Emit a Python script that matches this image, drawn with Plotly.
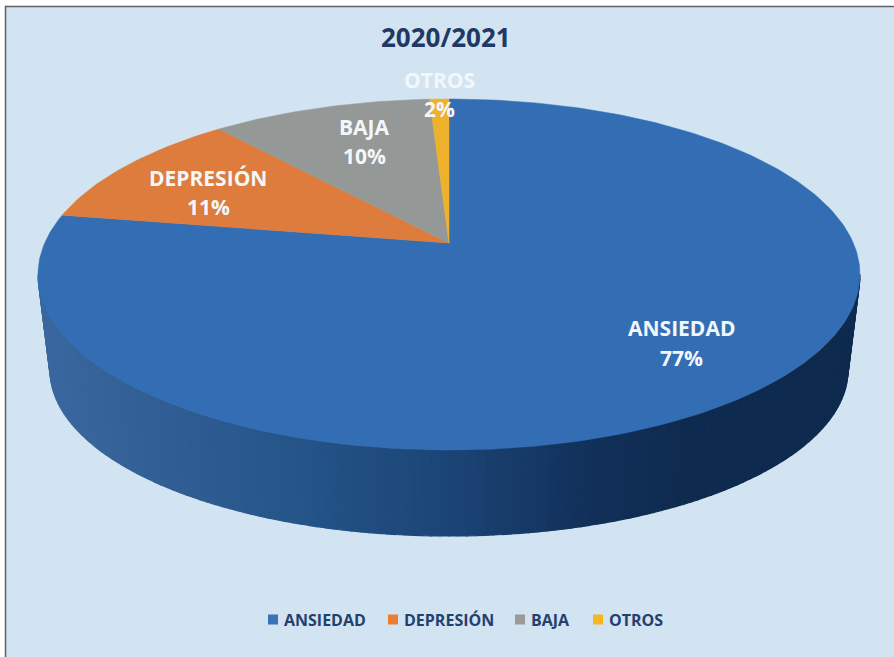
import numpy as np
import plotly.graph_objects as go

# --- data ---
categories = ["ANSIEDAD", "DEPRESIÓN", "BAJA", "OTROS"]
printed_percent = [77, 11, 10, 2]          # the labels printed on the chart
slice_shares = [77.7, 11.1, 10.3, 0.9]     # the slice widths as drawn
title_text = "2020/2021"

# --- styles ---
slice_colors = ["#336eb4", "#dd7c3c", "#949896", "#eeb12c"]
legend_colors = ["#3a71b9", "#ed7d31", "#9a9a9a", "#f7b51f"]
bg = "#d2e4f1"
navy = "#1f3864"
FONT = "Open Sans"

# --- geometry of the tilted disc (pixel space of the axes) ---
W, H = 894, 657
APEX_X, APEX_Y = 449, 243
TOP_SPAN, BOTTOM_SPAN, HALF_W = 144, 207, 411
k = (BOTTOM_SPAN - TOP_SPAN) / (BOTTOM_SPAN + TOP_SPAN)
a = TOP_SPAN * (1 + k)
b = HALF_W * np.sqrt(1 - k * k)


def project(turn):
    """turn: clockwise fraction from 12 o'clock -> perspective point on the top face."""
    t = 2 * np.pi * np.asarray(turn)
    u, v = np.sin(t), np.cos(t)
    d = 1 + k * v
    return APEX_X + b * u / d, APEX_Y - a * v / d


fig = go.Figure()

# side wall, in narrow strips to build the horizontal gradient
TOP_C = (APEX_X, 274.5, 411, 175.5)
BOT_C = (APEX_X, 370, 399, 166)
stops_x = [40, 300, 450, 600, 700, 860]
stops_rgb = np.array([[59, 103, 159], [36, 84, 136], [27, 68, 117],
                      [17, 47, 88], [14, 42, 78], [14, 42, 78]], float)


def wall_color(x):
    rgb = [np.interp(x, stops_x, stops_rgb[:, i]) for i in range(3)]
    return "rgb(%d,%d,%d)" % tuple(int(round(c)) for c in rgb)


phis = np.linspace(0, np.pi, 141)
for p0, p1 in zip(phis[:-1], phis[1:]):
    ps = np.linspace(p0, p1, 3)
    xt = TOP_C[0] + TOP_C[2] * np.cos(ps)
    yt = TOP_C[1] + TOP_C[3] * np.sin(ps)
    xb = BOT_C[0] + BOT_C[2] * np.cos(ps[::-1])
    yb = BOT_C[1] + BOT_C[3] * np.sin(ps[::-1])
    xs = np.r_[xt, xb, xt[0]]
    ys = np.r_[yt, yb, yt[0]]
    col = wall_color(float(xt.mean()))
    fig.add_trace(go.Scatter(x=xs, y=ys, mode="lines", fill="toself", fillcolor=col,
                             line=dict(color=col, width=1.2), hoverinfo="skip", showlegend=False))

# top-face slices
edges = np.cumsum([0] + slice_shares) / sum(slice_shares)
for name, c, s, e in zip(categories, slice_colors, edges[:-1], edges[1:]):
    turns = np.linspace(s, e, max(4, int((e - s) * 400)))
    x, y = project(turns)
    fig.add_trace(go.Scatter(x=np.r_[APEX_X, x, APEX_X], y=np.r_[APEX_Y, y, APEX_Y],
                             mode="lines", fill="toself", fillcolor=c,
                             line=dict(color=c, width=0.5), name=name,
                             hoverinfo="name", showlegend=False))

# legend row
legend_marker_x = [273, 393, 520, 598]
LEG_Y = 619.5
for name, c, lx in zip(categories, legend_colors, legend_marker_x):
    fig.add_trace(go.Scatter(x=[lx], y=[LEG_Y], mode="markers",
                             marker=dict(symbol="square", size=10, color=c),
                             hoverinfo="skip", showlegend=False))
    fig.add_annotation(x=lx + 9, y=LEG_Y, text=name, showarrow=False, xanchor="left",
                       yanchor="middle", font=dict(family=FONT, size=16, color="#24406f", weight="bold"))

# data labels: two lines each
label_pos = [(681, 328, 358), (208, 178, 207), (364, 127, 156), (439, 80, 109)]
for name, pct, (lx, y1, y2) in zip(categories, printed_percent, label_pos):
    for txt, yy in ((name, y1), (f"{pct}%", y2)):
        fig.add_annotation(x=lx, y=yy, text=txt, showarrow=False, xanchor="center", yanchor="middle",
                           font=dict(family=FONT, size=21, color="#f4f7fa", weight="bold"))

fig.add_annotation(x=446, y=37, text=title_text, showarrow=False, xanchor="center", yanchor="middle",
                   font=dict(family=FONT, size=26, color=navy, weight="bold"))

fig.update_layout(
    width=W, height=H, margin=dict(l=0, r=0, t=0, b=0),
    paper_bgcolor="white", plot_bgcolor="white", showlegend=False,
    xaxis=dict(range=[0, W], visible=False, fixedrange=True),
    yaxis=dict(range=[H, 0], visible=False, fixedrange=True),
    shapes=[dict(type="rect", xref="x", yref="y", x0=5.5, y0=6.5, x1=W + 20, y1=H + 20,
                 fillcolor=bg, line=dict(color="#5e6064", width=1.5), layer="below")],
)
fig.write_html("out.html", config={"displayModeBar": False},
               post_script="document.body.style.margin='0';document.documentElement.style.overflow='hidden';")
